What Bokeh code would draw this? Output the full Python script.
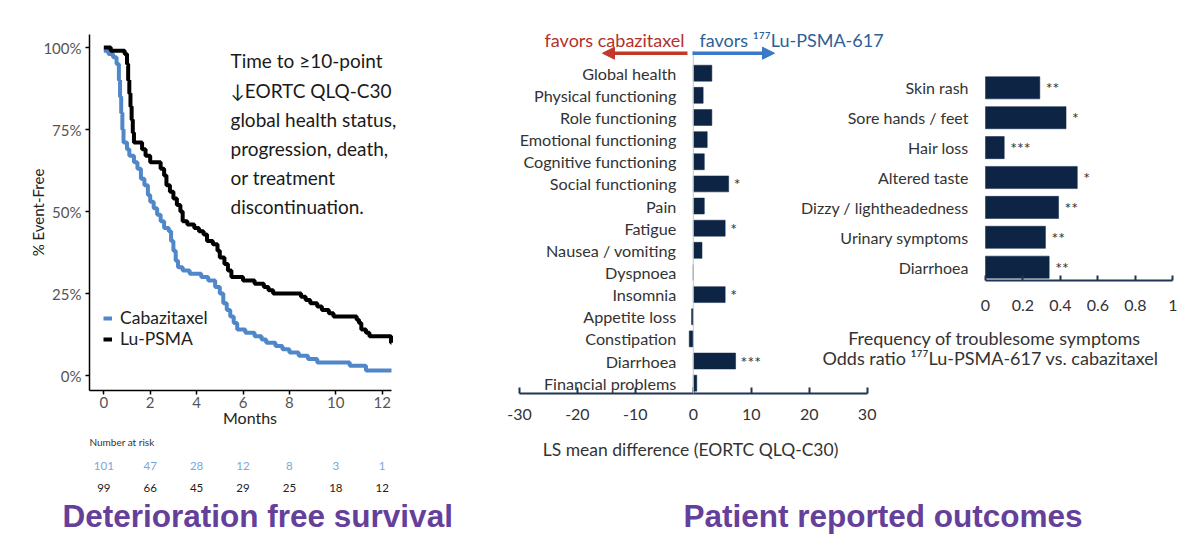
from bokeh.plotting import figure
from bokeh.models import (Range1d, FixedTicker, NumeralTickFormatter, LinearAxis, Label,
                          Arrow, NormalHead, Legend, LegendItem, ColumnDataSource)
from bokeh.layouts import row, column
from bokeh.core.properties import value
from bokeh.embed import file_html
from bokeh.resources import INLINE

FONT = "Lato"
TITLE_FONT = "Liberation Sans"
TEXT = "#333333"
NAVY = "#0d2444"
AXIS_NAVY = "#1f3553"
KM_BLUE = "#4f87c9"
RISK_BLUE = "#7aa7d8"
PURPLE = "#65409b"

# ---------------- data ----------------
# Kaplan-Meier (deterioration-free survival), % event-free
cab_months = [0, 0.2, 0.4, 0.55, 0.65, 0.7, 0.75, 0.8, 0.85, 1.0, 1.1, 1.3, 1.45, 1.6, 1.75,
              1.9, 2.0, 2.15, 2.3, 2.45, 2.6, 2.8, 2.9, 3.0, 3.1, 3.2, 3.4, 3.7, 4.2, 4.5,
              4.8, 5.0, 5.15, 5.3, 5.45, 5.6, 5.75, 6.1, 6.5, 6.8, 7.0, 7.4, 7.7, 8.0, 8.4,
              8.8, 9.2, 10.6, 11.3, 12.4]
cab_surv = [99, 98, 97, 95, 90, 85, 80, 75, 71, 69, 67, 65, 63, 60, 58,
            55, 53, 51, 49, 47, 45, 44, 41, 38, 35, 33, 32, 31, 30, 29,
            27, 25, 22, 20, 18, 16, 14, 13, 12, 11, 10, 9, 8, 7, 6,
            5, 4, 3, 1.5, 1.5]
lu_months = [0, 0.3, 0.9, 1.0, 1.05, 1.1, 1.15, 1.2, 1.25, 1.3, 1.65, 1.8, 2.0, 2.45, 2.6,
             2.7, 2.85, 3.0, 3.15, 3.3, 3.4, 3.6, 3.9, 4.1, 4.3, 4.45, 4.7, 4.9, 5.0, 5.2,
             5.35, 5.5, 6.0, 6.5, 6.9, 7.1, 7.3, 8.5, 8.7, 8.9, 9.2, 9.4, 9.7, 9.9, 10.9,
             11.0, 11.1, 11.3, 11.45, 12.38, 12.4]
lu_surv = [100, 99, 98, 95, 90, 86, 82, 78, 74, 71, 69, 67, 65, 63, 61,
           58, 56, 54, 52, 50, 47, 46, 45, 44, 43, 41, 40, 38, 36, 34,
           32, 30, 29, 28, 27, 26, 25, 24, 23, 22, 21, 20, 19, 18, 17,
           16, 14, 13, 12, 10, 10]
km_xticks = [0, 2, 4, 6, 8, 10, 12]
km_yticks = [0, 0.25, 0.5, 0.75, 1.0]

risk_months = [0, 2, 4, 6, 8, 10, 12]
cab_risk = [101, 47, 28, 12, 8, 3, 1]
lu_risk = [99, 66, 45, 29, 25, 18, 12]

km_note = ["Time to \u226510-point", "\u2193EORTC QLQ-C30", "global health status,",
           "progression, death,", "or treatment", "discontinuation."]

# LS mean difference (EORTC QLQ-C30)
ls_cats = ["Global health", "Physical functioning", "Role functioning", "Emotional functioning",
           "Cognitive functioning", "Social functioning", "Pain", "Fatigue",
           "Nausea / vomiting", "Dyspnoea", "Insomnia", "Appetite loss", "Constipation",
           "Diarrhoea", "Financial problems"]
ls_vals = [3.2, 1.7, 3.2, 2.4, 1.9, 6.1, 1.9, 5.5, 1.5, 0.0, 5.5, -0.3, -0.7, 7.3, 0.6]
ls_sig = ["", "", "", "", "", "*", "", "*", "", "", "*", "", "", "***", ""]
ls_ticks = [-30, -20, -10, 0, 10, 20, 30]

# Odds ratio, troublesome symptoms
or_cats = ["Skin rash", "Sore hands / feet", "Hair loss", "Altered taste",
           "Dizzy / lightheadedness", "Urinary symptoms", "Diarrhoea"]
or_vals = [0.29, 0.43, 0.10, 0.49, 0.39, 0.32, 0.34]
or_sig = ["**", "*", "***", "*", "**", "**", "**"]
or_ticks = [0, 0.2, 0.4, 0.6, 0.8, 1.0]

# ---------------- KM panel ----------------
KM_W, KM_H = 470, 432
KM_L, KM_R, KM_T, KM_B = 89, 410, 34, 390      # frame edges (px)
KM_X0, KM_PXM = 103.3, 23.2                      # month 0 position, px per month
KM_Y0, KM_PXU = 375.0, 328.0                     # 0% position, px per 1.0


def km_x(px):
    return (px - KM_X0) / KM_PXM


def km_y(px):
    return (KM_Y0 - px) / KM_PXU


km = figure(width=KM_W, height=KM_H, output_backend="svg", toolbar_location=None,
            x_range=Range1d(km_x(KM_L), km_x(KM_R)), y_range=Range1d(km_y(KM_B), km_y(KM_T)),
            min_border_left=KM_L, min_border_right=KM_W - KM_R,
            min_border_top=KM_T, min_border_bottom=KM_H - KM_B)
km.grid.visible = False
km.outline_line_color = None

r_cab = km.step(cab_months, [s / 100 for s in cab_surv], mode="after",
                line_width=4, color=KM_BLUE)
r_lu = km.step(lu_months, [s / 100 for s in lu_surv], mode="after",
               line_width=4, color="black")

km.xaxis.ticker = FixedTicker(ticks=km_xticks)
km.xaxis.bounds = (km_x(KM_L), 12.4)
km.yaxis.ticker = FixedTicker(ticks=km_yticks)
km.yaxis.formatter = NumeralTickFormatter(format="0%")
km.xaxis.axis_label = "Months"
km.yaxis.axis_label = "% Event-Free"
for ax in (km.xaxis[0], km.yaxis[0]):
    ax.axis_line_color = "black"
    ax.axis_line_width = 1.5
    ax.major_tick_line_color = "black"
    ax.major_tick_line_width = 1.5
    ax.major_tick_out = 4
    ax.major_tick_in = 0
    ax.minor_tick_line_color = None
    ax.major_label_text_font = FONT
    ax.major_label_text_font_size = "15px"
    ax.major_label_text_color = "#555555"
    ax.axis_label_text_font = FONT
    ax.axis_label_text_font_size = "16px"
    ax.axis_label_text_font_style = "normal"
    ax.axis_label_text_color = "#222222"
km.yaxis.axis_label_text_font_size = "15px"
km.xaxis.major_label_standoff = 2
km.xaxis.axis_label_standoff = -3
km.yaxis.major_label_standoff = 4
km.yaxis.axis_label_standoff = -7

legend = Legend(items=[LegendItem(label="Cabazitaxel", renderers=[r_cab]),
                       LegendItem(label="Lu-PSMA", renderers=[r_lu])],
                location=(14, 41), border_line_color=None, background_fill_alpha=0,
                glyph_width=9, glyph_height=18, label_height=18, label_standoff=8,
                spacing=0, padding=0, margin=0, label_text_font=FONT,
                label_text_font_size="17.5px", label_text_color="#222222")
km.add_layout(legend)

note_y = [60, 90, 119, 148, 177, 206]
for line, py in zip(km_note, note_y):
    km.add_layout(Label(x=km_x(230), y=km_y(py), text=line, text_font=FONT,
                        text_font_size="19px", text_color="#1a1a1a",
                        text_baseline="middle", text_align="left"))

# Number-at-risk strip (shares the KM month scale)
RK_H = 63
RK_ROW0, RK_ROWPX = 33.0, 22.0
risk = figure(width=KM_W, height=RK_H, output_backend="svg", toolbar_location=None,
              x_range=km.x_range,
              y_range=Range1d((RK_H - RK_ROW0) / RK_ROWPX, -RK_ROW0 / RK_ROWPX),
              x_axis_type=None, y_axis_type=None,
              min_border_left=KM_L, min_border_right=KM_W - KM_R,
              min_border_top=0, min_border_bottom=0)
risk.outline_line_color = None
risk.text(x=risk_months, y=[0] * len(cab_risk), text=[str(v) for v in cab_risk],
          text_font=value(FONT), text_font_size="11.5px", text_color=RISK_BLUE,
          text_align="center", text_baseline="middle")
risk.text(x=risk_months, y=[1] * len(lu_risk), text=[str(v) for v in lu_risk],
          text_font=value(FONT), text_font_size="11.5px", text_color="#222222",
          text_align="center", text_baseline="middle")
risk.add_layout(Label(x=km_x(89), y=(9 - RK_ROW0) / RK_ROWPX, text="Number at risk",
                      text_font=FONT, text_font_size="10px", text_color="#333333",
                      text_baseline="middle", text_align="left"))

# ---------------- patient reported outcomes panel ----------------
BC_X0 = 470
BC_W, BC_H = 730, 495
BC_L, BC_R, BC_T, BC_B = 490, 1195, 20, 495      # absolute frame edges
LS_AXIS_Y, OR_AXIS_Y = 393, 280                  # axis line positions
LS_X0, LS_PXU = 692.8, 5.795
LS_R0, LS_ROW = 72.7, 22.14
OR_X0, OR_PXU = 985.0, 187.3
OR_R0, OR_ROW = 87.3, 29.9


def ls_x(px):
    return (px - LS_X0) / LS_PXU


def ls_r(py):
    return (py - LS_R0) / LS_ROW


def or_x(px):
    return (px - OR_X0) / OR_PXU


def or_r(py):
    return (py - OR_R0) / OR_ROW


bc = figure(width=BC_W, height=BC_H, output_backend="svg", toolbar_location=None,
            x_range=Range1d(ls_x(BC_L), ls_x(BC_R)), y_range=Range1d(ls_r(BC_B), ls_r(BC_T)),
            x_axis_type=None, y_axis_type=None,
            min_border_left=BC_L - BC_X0, min_border_right=BC_X0 + BC_W - BC_R,
            min_border_top=BC_T, min_border_bottom=0)
bc.extra_x_ranges = {"or": Range1d(or_x(BC_L), or_x(BC_R))}
bc.extra_y_ranges = {"ory": Range1d(or_r(BC_B), or_r(BC_T))}
bc.outline_line_color = None

# zero reference line
bc.add_layout(Arrow(start=None, end=None, x_start=0, x_end=0, y_start=ls_r(50),
                    y_end=ls_r(LS_AXIS_Y), line_color="#c9c9c9", line_width=1))

ls_src = ColumnDataSource(dict(y=list(range(len(ls_cats))), v=ls_vals, cat=ls_cats, sig=ls_sig))
bc.hbar(y="y", left=0, right="v", height=0.72, source=ls_src, fill_color=NAVY, line_color=NAVY,
        line_width=0.5)
bc.text(x=0, y="y", text="cat", source=ls_src, x_offset=-17, text_align="right",
        text_baseline="middle", text_font=value(FONT), text_font_size="16.2px",
        text_color=TEXT)
bc.text(x="v", y="y", text="sig", source=ls_src, x_offset=5, text_align="left",
        text_baseline="middle", text_font=value(FONT), text_font_size="16px",
        text_color=TEXT)


def style_axis(a, tick_in, standoff):
    a.axis_line_color = AXIS_NAVY
    a.axis_line_width = 2
    a.major_tick_line_color = AXIS_NAVY
    a.major_tick_line_width = 2
    a.major_tick_in = tick_in
    a.major_tick_out = 0
    a.minor_tick_line_color = None
    a.major_label_standoff = standoff
    a.major_label_text_font = FONT
    a.major_label_text_font_size = "16px"
    a.major_label_text_color = TEXT


ls_axis = LinearAxis(fixed_location=ls_r(LS_AXIS_Y), bounds=(-30, 30),
                     ticker=FixedTicker(ticks=ls_ticks), formatter=NumeralTickFormatter(format="0"))
style_axis(ls_axis, 6, 15)
bc.add_layout(ls_axis, "below")

bc.add_layout(Label(x=ls_x(690), y=ls_r(449), text="LS mean difference (EORTC QLQ-C30)",
                    text_font=FONT, text_font_size="17.5px", text_color=TEXT,
                    text_align="center", text_baseline="middle"))

# header arrows
bc.add_layout(Arrow(end=NormalHead(size=12, fill_color="#c0392b", line_color="#c0392b"),
                    x_start=ls_x(687), y_start=ls_r(52.7), x_end=ls_x(602), y_end=ls_r(52.7),
                    line_color="#c0392b", line_width=3.5))
bc.add_layout(Arrow(end=NormalHead(size=12, fill_color="#3a78c8", line_color="#3a78c8"),
                    x_start=ls_x(692), y_start=ls_r(52.7), x_end=ls_x(774), y_end=ls_r(52.7),
                    line_color="#3a78c8", line_width=3.5))
bc.add_layout(Label(x=ls_x(684), y=ls_r(39), text="favors cabazitaxel", text_font=FONT,
                    text_font_size="18px", text_color="#b5302a", text_align="right",
                    text_baseline="middle"))
bc.add_layout(Label(x=ls_x(699), y=ls_r(39), text="favors \u00b9\u2077\u2077Lu-PSMA-617",
                    text_font=FONT, text_font_size="18px", text_color="#2f5f94",
                    text_align="left", text_baseline="middle"))

# odds ratio bars
or_src = ColumnDataSource(dict(y=list(range(len(or_cats))), v=or_vals, cat=or_cats, sig=or_sig))
bc.hbar(y="y", left=0, right="v", height=0.74, source=or_src, fill_color=NAVY,
        line_color=NAVY, line_width=0.5, x_range_name="or", y_range_name="ory")
bc.text(x=0, y="y", text="cat", source=or_src, x_offset=-17, text_align="right",
        text_baseline="middle", text_font=value(FONT), text_font_size="16px",
        text_color=TEXT, x_range_name="or", y_range_name="ory")
bc.text(x="v", y="y", text="sig", source=or_src, x_offset=6, text_align="left",
        text_baseline="middle", text_font=value(FONT), text_font_size="16px",
        text_color=TEXT, x_range_name="or", y_range_name="ory")

or_axis = LinearAxis(x_range_name="or", y_range_name="ory", fixed_location=or_r(OR_AXIS_Y),
                     bounds=(0, 1), ticker=FixedTicker(ticks=or_ticks),
                     formatter=NumeralTickFormatter(format="0.[0]"))
style_axis(or_axis, 5, 19)
bc.add_layout(or_axis, "below")

bc.add_layout(Label(x=or_x(994), y=or_r(337), text="Frequency of troublesome symptoms",
                    text_font=FONT, text_font_size="18px", text_color=TEXT,
                    text_align="center", text_baseline="middle",
                    x_range_name="or", y_range_name="ory"))
bc.add_layout(Label(x=or_x(990), y=or_r(357),
                    text="Odds ratio \u00b9\u2077\u2077Lu-PSMA-617 vs. cabazitaxel",
                    text_font=FONT, text_font_size="18px", text_color=TEXT,
                    text_align="center", text_baseline="middle",
                    x_range_name="or", y_range_name="ory"))

# ---------------- bottom titles ----------------
BT_H = 542 - BC_H
bottom = figure(width=1200, height=BT_H, output_backend="svg", toolbar_location=None,
                x_range=Range1d(0, 1200), y_range=Range1d(BT_H, 0),
                x_axis_type=None, y_axis_type=None, min_border=0)
bottom.outline_line_color = None
bottom.add_layout(Label(x=62, y=515 - BC_H, text="Deterioration free survival",
                        text_font=TITLE_FONT, text_font_size="31.5px", text_font_style="bold",
                        text_color=PURPLE, text_align="left", text_baseline="middle"))
bottom.add_layout(Label(x=683, y=515 - BC_H, text="Patient reported outcomes",
                        text_font=TITLE_FONT, text_font_size="31.5px", text_font_style="bold",
                        text_color=PURPLE, text_align="left", text_baseline="middle"))

layout = column(row(column(km, risk, spacing=0), bc, spacing=0), bottom, spacing=0)
open("out.html", "w").write(file_html(layout, INLINE, title="Deterioration free survival and PROs"))
